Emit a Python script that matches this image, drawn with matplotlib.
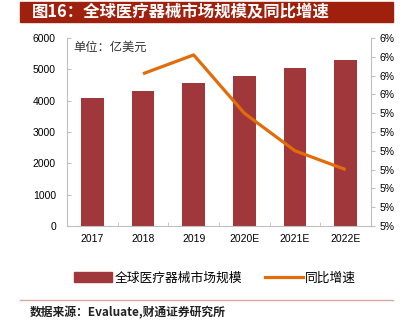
import matplotlib.pyplot as plt
from matplotlib.patches import Rectangle
from matplotlib.lines import Line2D
from matplotlib.ticker import FuncFormatter

plt.rcParams['font.family'] = ['Noto Sans CJK SC', 'DejaVu Sans']

years = ['2017', '2018', '2019', '2020E', '2021E', '2022E']
market_size = [4100, 4310, 4560, 4800, 5040, 5290]   # 亿美元
growth_years = years[1:]
growth = [0.0561, 0.0571, 0.0540, 0.0520, 0.0510]

bar_color = '#A0373A'
line_color = '#E36C0A'
axis_color = '#BFBFBF'
num_font = ['Liberation Sans', 'DejaVu Sans']

fig = plt.figure(figsize=(4.07, 3.33), dpi=100)

# title bar
fig.patches.append(Rectangle((20 / 407, 1 - 22 / 333), 373 / 407, 20 / 333,
                             transform=fig.transFigure, color='#A0200E', zorder=0))
fig.text(32 / 407, 1 - 12 / 333, '图16：全球医疗器械市场规模及同比增速', color='white',
         fontsize=11.8, fontweight='bold', va='center', ha='left')

ax = fig.add_axes([67 / 407, 1 - 226 / 333, 304 / 407, 188 / 333])
x = list(range(len(years)))
ax.bar(x, market_size, width=0.45, color=bar_color, zorder=2)
ax.set_xlim(-0.5, 5.5)
ax.set_ylim(0, 6000)
ax.set_yticks(range(0, 6001, 1000))
ax.set_xticks(x)
ax.set_xticklabels(years, family=num_font, fontsize=7.5)
ax.set_xticks([i + 0.5 for i in range(5)], minor=True)
ax.tick_params(axis='x', which='major', length=0, pad=6)
ax.tick_params(axis='x', which='minor', direction='in', length=3, color=axis_color)
ax.tick_params(axis='y', direction='in', length=3, color=axis_color, labelsize=7.5, pad=8)
for lab in ax.get_yticklabels():
    lab.set_family(num_font)
for side in ['top', 'right']:
    ax.spines[side].set_visible(False)
for side in ['left', 'bottom']:
    ax.spines[side].set_color(axis_color)
ax.text(0.02, 0.985, '单位：亿美元', transform=ax.transAxes, fontsize=8.8,
        va='top', ha='left', color='#333333')

ax2 = ax.twinx()
ax2.plot([years.index(y) for y in growth_years], growth, color=line_color, lw=2.3,
         solid_capstyle='butt', zorder=3)
ax2.set_ylim(0.048, 0.058)
ax2.set_yticks([0.048 + 0.001 * i for i in range(11)])
ax2.yaxis.set_major_formatter(FuncFormatter(lambda v, p: '{:.0%}'.format(v)))
ax2.tick_params(axis='y', direction='out', length=3, color=axis_color, labelsize=7.5, pad=3)
for lab in ax2.get_yticklabels():
    lab.set_family(num_font)
for side in ['top', 'left', 'bottom']:
    ax2.spines[side].set_visible(False)
ax2.spines['right'].set_color(axis_color)

handles = [Rectangle((0, 0), 1, 1, color=bar_color),
           Line2D([], [], color=line_color, lw=2.3)]
fig.legend(handles, ['全球医疗器械市场规模', '同比增速'], loc='center',
           bbox_to_anchor=(215 / 407, 1 - 278 / 333), ncol=2, frameon=False,
           fontsize=9.2, handlelength=3.0, handleheight=0.75, columnspacing=1.8,
           handletextpad=0.15)

# footer
fig.add_artist(Line2D([20 / 407, 393 / 407], [1 - 300 / 333, 1 - 300 / 333],
                      transform=fig.transFigure, color='#D9A8A0', lw=1))
fig.text(30 / 407, 1 - 313 / 333, '数据来源：Evaluate,财通证券研究所', fontsize=8.5,
         fontweight='bold', va='center', ha='left', color='#222222')

fig.savefig('out.png', dpi=100)
